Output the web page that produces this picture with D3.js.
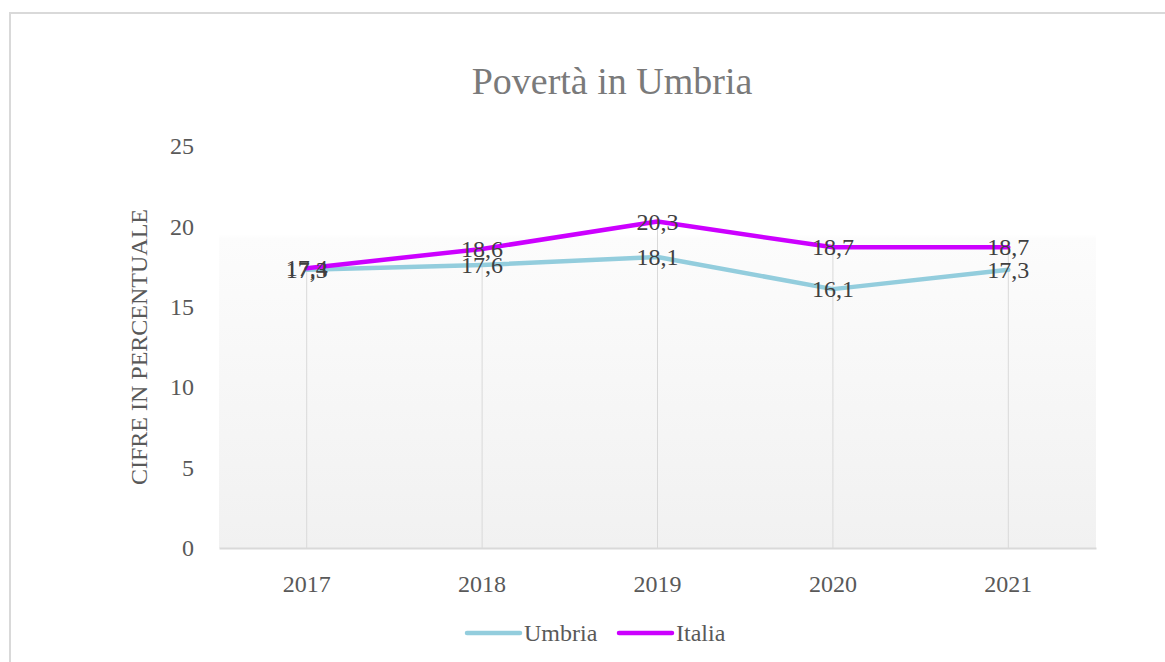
<!DOCTYPE html>
<html>
<head>
<meta charset="utf-8">
<script src="https://cdn.jsdelivr.net/npm/d3@7"></script>
<style>
  body { margin: 0; background: #fff; }
  text { font-family: "Liberation Serif", "Times New Roman", serif; }
</style>
</head>
<body>
<div id="chart"></div>
<script>
// data
var years = ["2017", "2018", "2019", "2020", "2021"];
var umbria = [17.3, 17.6, 18.1, 16.1, 17.3];
var italia = [17.4, 18.6, 20.3, 18.7, 18.7];
var yTicks = [0, 5, 10, 15, 20, 25];
var seriesNames = ["Umbria", "Italia"];
var seriesColors = ["#93cddd", "#cc00ff"];

var W = 1165, H = 662;
var margin = {top: 146, right: 69, bottom: 114, left: 219};

var svg = d3.select("#chart").append("svg")
    .attr("width", W)
    .attr("height", H);

// chart frame
svg.append("rect")
    .attr("x", 10).attr("y", 13)
    .attr("width", W).attr("height", H)
    .attr("fill", "#fff")
    .attr("stroke", "#d9d9d9")
    .attr("stroke-width", 2);

var x = d3.scaleBand()
    .domain(years)
    .range([margin.left, W - margin.right]);

var y = d3.scaleLinear()
    .domain([0, 25])
    .range([H - margin.bottom, margin.top]);

// plot background gradient
var grad = svg.append("defs").append("linearGradient")
    .attr("id", "bg")
    .attr("x1", 0).attr("y1", 0).attr("x2", 0).attr("y2", 1);
grad.append("stop").attr("offset", "0").attr("stop-color", "#ffffff");
grad.append("stop").attr("offset", "0.22").attr("stop-color", "#ffffff");
grad.append("stop").attr("offset", "0.23").attr("stop-color", "#fcfcfc");
grad.append("stop").attr("offset", "1").attr("stop-color", "#f1f1f1");

svg.append("rect")
    .attr("x", margin.left)
    .attr("y", y(25))
    .attr("width", x.range()[1] - x.range()[0])
    .attr("height", y(0) - y(25))
    .attr("fill", "url(#bg)");

// title
svg.append("text")
    .attr("x", 612).attr("y", 94)
    .attr("text-anchor", "middle")
    .attr("font-size", 38)
    .attr("fill", "#7a7a7a")
    .text("Povertà in Umbria");

// y axis
var yAxis = svg.append("g")
    .attr("transform", "translate(" + (margin.left - 25) + ",0)")
    .call(d3.axisLeft(y).tickValues(yTicks).tickSize(0).tickPadding(0));
yAxis.select(".domain").remove();
yAxis.selectAll("text")
    .attr("font-size", 24)
    .attr("fill", "#595959")
    .style("font-family", "Liberation Serif");

svg.append("text")
    .attr("transform", "translate(147," + ((y(0) + y(25)) / 2) + ") rotate(-90)")
    .attr("text-anchor", "middle")
    .attr("font-size", 24)
    .attr("fill", "#595959")
    .text("CIFRE IN PERCENTUALE");

// drop lines
svg.append("g").selectAll("line")
    .data(years)
    .enter().append("line")
    .attr("x1", function(d) { return x(d) + x.bandwidth() / 2; })
    .attr("x2", function(d) { return x(d) + x.bandwidth() / 2; })
    .attr("y1", function(d, i) { return y(Math.max(umbria[i], italia[i])); })
    .attr("y2", y(0))
    .attr("stroke", "#d9d9d9")
    .attr("stroke-width", 1);

// x axis
var xAxis = svg.append("g")
    .attr("transform", "translate(0," + y(0) + ")")
    .call(d3.axisBottom(x).tickSize(0).tickPadding(27));
xAxis.select(".domain")
    .attr("stroke", "#d9d9d9")
    .attr("stroke-width", 2);
xAxis.selectAll("text")
    .attr("font-size", 24)
    .attr("fill", "#595959")
    .style("font-family", "Liberation Serif");

// lines
var line = d3.line()
    .x(function(d, i) { return x(years[i]) + x.bandwidth() / 2; })
    .y(function(d) { return y(d); });

var allSeries = [umbria, italia];
allSeries.forEach(function(s, k) {
    svg.append("path")
        .datum(s)
        .attr("d", line)
        .attr("fill", "none")
        .attr("stroke", seriesColors[k])
        .attr("stroke-width", 4.5)
        .attr("stroke-linejoin", "round")
        .attr("stroke-linecap", "round");
});

// data labels
allSeries.forEach(function(s, k) {
    svg.append("g").selectAll("text")
        .data(s)
        .enter().append("text")
        .attr("x", function(d, i) { return x(years[i]) + x.bandwidth() / 2; })
        .attr("y", function(d) { return y(d) + 8; })
        .attr("text-anchor", "middle")
        .attr("font-size", 24)
        .attr("fill", "#404040")
        .text(function(d) { return d.toFixed(1).replace(".", ","); });
});

// legend
var legend = svg.append("g").attr("transform", "translate(467,633)");
var lx = [0, 152];
seriesNames.forEach(function(n, k) {
    var g = legend.append("g").attr("transform", "translate(" + lx[k] + ",0)");
    g.append("line")
        .attr("x1", 0).attr("x2", 53)
        .attr("y1", 0).attr("y2", 0)
        .attr("stroke", seriesColors[k])
        .attr("stroke-width", 4.5)
        .attr("stroke-linecap", "round");
    g.append("text")
        .attr("x", 57).attr("y", 8)
        .attr("font-size", 24)
        .attr("fill", "#595959")
        .text(n);
});
</script>
</body>
</html>
